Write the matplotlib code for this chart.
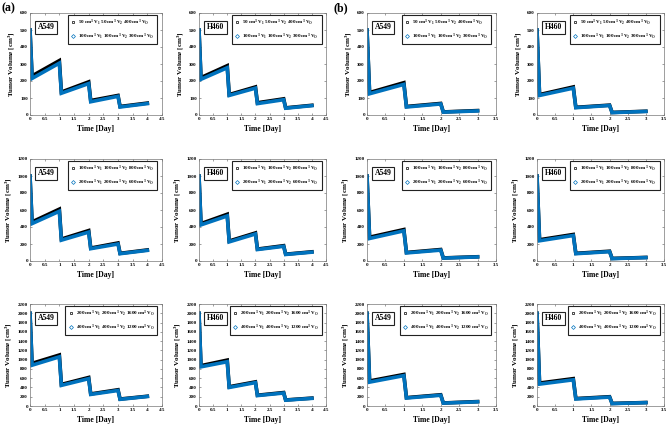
import matplotlib
matplotlib.use("Agg")
import matplotlib.pyplot as plt
from matplotlib.lines import Line2D

plt.rcParams['font.family'] = ['Liberation Serif', 'DejaVu Serif']
plt.rcParams['font.weight'] = 'bold'
plt.rcParams['mathtext.fontset'] = 'custom'
plt.rcParams['mathtext.rm'] = 'Liberation Serif:bold'
plt.rcParams['mathtext.it'] = 'Liberation Serif:bold'
plt.rcParams['mathtext.bf'] = 'Liberation Serif:bold'

# time breakpoints (day)
t_a = [0, 0.07, 1, 1.07, 2, 2.07, 3, 3.07, 4]
t_b = [0, 0.07, 1, 1.07, 2, 2.07, 3]

# tumor volume, (a) four doses, (b) three doses
a549_a_r1 = ([500, 230, 320, 135, 195, 85, 115, 50, 70], [500, 215, 305, 128, 185, 78, 110, 47, 67])
h460_a_r1 = ([500, 220, 290, 120, 165, 72, 95, 42, 57], [500, 210, 278, 115, 158, 67, 90, 40, 55])
a549_a_r2 = ([1000, 460, 610, 258, 358, 152, 212, 90, 130], [1000, 440, 585, 245, 340, 145, 200, 86, 125])
h460_a_r2 = ([1000, 440, 550, 235, 330, 140, 180, 80, 108], [1000, 425, 530, 225, 318, 135, 173, 77, 104])
a549_a_r3 = ([2000, 920, 1100, 465, 615, 260, 350, 150, 210], [2000, 880, 1060, 445, 590, 250, 335, 144, 205])
h460_a_r3 = ([2000, 870, 990, 415, 520, 232, 290, 130, 170], [2000, 845, 955, 400, 505, 225, 280, 126, 165])

a549_b_r1 = ([500, 132, 190, 50, 68, 18, 26], [500, 125, 180, 47, 65, 17, 24])
h460_b_r1 = ([500, 120, 165, 45, 58, 15, 22], [500, 115, 158, 43, 56, 14, 21])
a549_b_r2 = ([1000, 280, 370, 100, 135, 36, 50], [1000, 265, 355, 95, 128, 34, 48])
h460_b_r2 = ([1000, 250, 312, 90, 115, 30, 42], [1000, 238, 300, 86, 110, 28, 40])
a549_b_r3 = ([2000, 540, 680, 180, 242, 65, 95], [2000, 515, 655, 172, 232, 62, 91])
h460_b_r3 = ([2000, 495, 590, 160, 200, 55, 75], [2000, 472, 565, 152, 192, 52, 72])

labels_r1 = [r"50 cm$^3$ V$_1$ 50 cm$^3$ V$_2$ 400 cm$^3$ V$_O$",
             r"100 cm$^3$ V$_1$ 100 cm$^3$ V$_2$ 300 cm$^3$ V$_O$"]
labels_r2 = [r"100 cm$^3$ V$_1$ 100 cm$^3$ V$_2$ 800 cm$^3$ V$_O$",
             r"200 cm$^3$ V$_1$ 200 cm$^3$ V$_2$ 600 cm$^3$ V$_O$"]
labels_r3 = [r"200 cm$^3$ V$_1$ 200 cm$^3$ V$_2$ 1600 cm$^3$ V$_O$",
             r"400 cm$^3$ V$_1$ 400 cm$^3$ V$_2$ 1200 cm$^3$ V$_O$"]

rows = [
    (labels_r1, 600, 100, [a549_a_r1, h460_a_r1, a549_b_r1, h460_b_r1]),
    (labels_r2, 1200, 200, [a549_a_r2, h460_a_r2, a549_b_r2, h460_b_r2]),
    (labels_r3, 2200, 200, [a549_a_r3, h460_a_r3, a549_b_r3, h460_b_r3]),
]
cells = ["A549", "H460", "A549", "H460"]

W, H = 669, 424
fig = plt.figure(figsize=(W / 100, H / 100), dpi=100)

col_x = [(30, 162), (199, 326), (367, 496), (537, 664)]
row_y = [(13, 115), (159, 261), (304, 406)]
blue = '#0072BD'

for r, (labs, ymax, ystep, series) in enumerate(rows):
    for c in range(4):
        x0, x1 = col_x[c]
        y0, y1 = row_y[r]
        ax = fig.add_axes([x0 / W, 1 - y1 / H, (x1 - x0) / W, (y1 - y0) / H])
        t = t_a if c < 2 else t_b
        black_v, blue_v = series[c]
        ax.plot(t, black_v, color='k', lw=2.6, solid_joinstyle='miter')
        ax.plot(t, blue_v, color=blue, lw=2.6, solid_joinstyle='miter')
        xmax = 4.5 if c < 2 else 3.5
        ax.set_xlim(0, xmax)
        ax.set_ylim(0, ymax)
        ax.set_xticks([i * 0.5 for i in range(int(xmax / 0.5) + 1)])
        ax.set_xticklabels([('%g' % (i * 0.5)) for i in range(int(xmax / 0.5) + 1)])
        ax.set_yticks(list(range(0, ymax + 1, ystep)))
        ax.tick_params(direction='in', top=True, right=True, labelsize=3.6,
                       length=1.5, width=0.4, pad=1.5, color='#555555')
        for s in ax.spines.values():
            s.set_linewidth(0.5)
            s.set_color('#777777')
        ax.set_xlabel("Time [Day]", fontsize=5.5, fontweight='bold', labelpad=2.5)
        ax.set_ylabel(r"Tumor Volume [cm$^3$]", fontsize=5, fontweight='bold', labelpad=2.5)
        handles = [Line2D([], [], ls='none', marker='s', mfc='none', mec='k', ms=2.0, mew=0.5),
                   Line2D([], [], ls='none', marker='D', mfc='none', mec=blue, ms=2.0, mew=0.5)]
        leg = ax.legend(handles, labs, loc='upper right', fontsize=3.6, frameon=True,
                        fancybox=False, edgecolor='#222222', framealpha=1,
                        bbox_to_anchor=(0.965, 0.985), borderpad=0.55, handletextpad=0.5,
                        handlelength=1.0, labelspacing=0.75, borderaxespad=0.0)
        leg.get_frame().set_linewidth(0.8)
        ax.text(0.06, 0.9, cells[c], transform=ax.transAxes, fontsize=5.5,
                fontweight='bold', va='top', ha='left',
                bbox=dict(boxstyle='square,pad=0.35', fc='white', ec='#222222', lw=0.8))

fig.text(2 / W, 1 - 11 / H, "(a)", fontsize=8.5, fontweight='bold', va='baseline')
fig.text(333 / W, 1 - 11 / H, "(b)", fontsize=8.5, fontweight='bold', va='baseline')

fig.savefig("out.png", dpi=100)
